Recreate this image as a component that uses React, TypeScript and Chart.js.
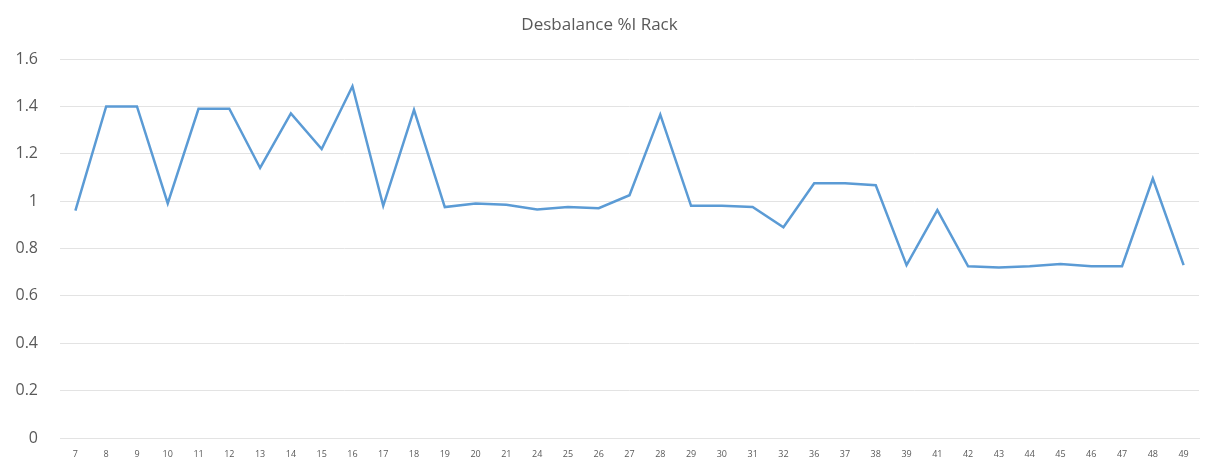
import React, { useEffect, useRef } from "react";
import { Chart, registerables } from "chart.js";

Chart.register(...registerables);

const racks = ["7","8","9","10","11","12","13","14","15","16","17","18","19","20","21","24","25","26","27","28","29","30","31","32","36","37","38","39","41","42","43","44","45","46","47","48","49"];
const desbalance = [0.96,1.40,1.40,0.99,1.39,1.39,1.14,1.37,1.22,1.485,0.98,1.385,0.975,0.99,0.985,0.965,0.975,0.97,1.025,1.365,0.98,0.98,0.975,0.89,1.075,1.075,1.067,0.73,0.962,0.725,0.72,0.725,0.735,0.725,0.725,1.095,0.73];
const chartTitle = "Desbalance %I Rack";

export default function App() {
  const ref = useRef<HTMLCanvasElement>(null);
  useEffect(() => {
    document.body.style.margin = "0";
    const chart = new Chart(ref.current!, {
      type: "line",
      data: {
        labels: racks,
        datasets: [{
          data: desbalance,
          borderColor: "#5b9bd5",
          borderWidth: 2.5,
          pointRadius: 0,
          tension: 0,
          fill: false,
        }],
      },
      options: {
        animation: false,
        responsive: false,
        layout: { padding: { left: 0, right: 6, top: 0, bottom: 0 } },
        plugins: {
          legend: { display: false },
          tooltip: { enabled: false },
          title: {
            display: true,
            text: chartTitle,
            color: "#595959",
            font: { family: "'Open Sans'", size: 17, weight: "normal" },
            padding: { top: 15, bottom: 23.6 },
          },
        },
        scales: {
          x: {
            offset: true,
            grid: { display: false, drawTicks: false },
            border: { display: true, color: "#e3e3e3", width: 1 },
            afterFit: (s: any) => { s.height = 25; s.paddingLeft = 0; s.paddingRight = 0; },
            ticks: {
              color: "#595959",
              font: { family: "'Open Sans'", size: 9 },
              maxRotation: 0,
              autoSkip: false,
              padding: 11,
            },
          },
          y: {
            min: 0,
            max: 1.6,
            grid: { color: "#e3e3e3", drawTicks: false },
            border: { display: false },
            afterFit: (s: any) => { s.width = 60; s.paddingTop = 0; s.paddingBottom = 0; },
            ticks: {
              stepSize: 0.2,
              color: "#595959",
              font: { family: "'Open Sans'", size: 16 },
              padding: 22,
              callback: (v: any) => String(Number(Number(v).toFixed(1))),
            },
          },
        },
      },
    });
    return () => chart.destroy();
  }, []);
  return <canvas ref={ref} width={1205} height={463} style={{ display: "block" }} />;
}
